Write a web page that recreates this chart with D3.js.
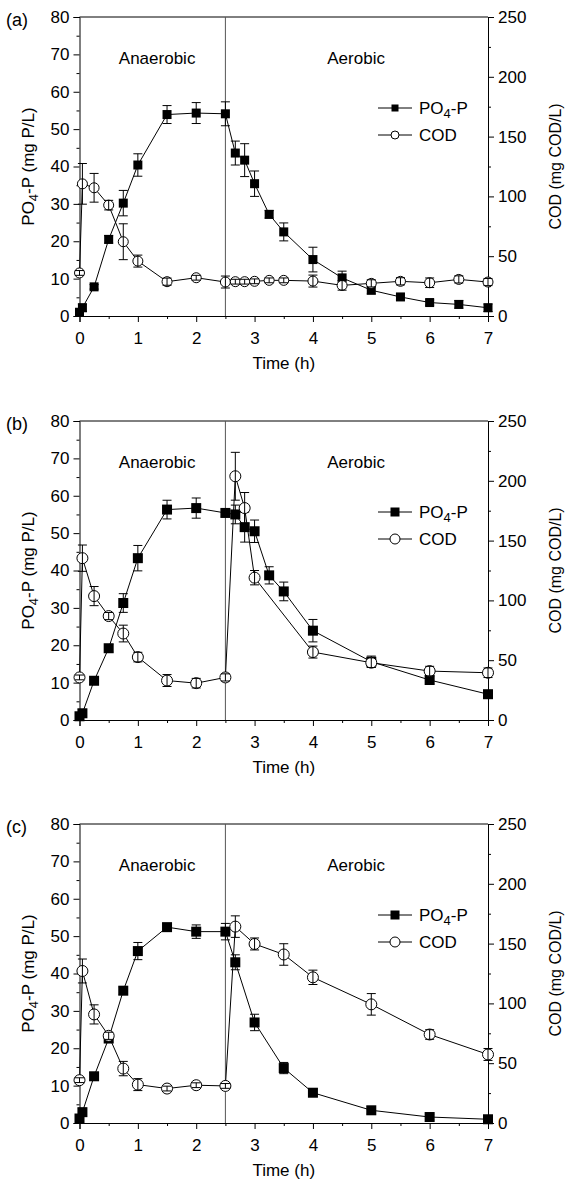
<!DOCTYPE html>
<html>
<head>
<meta charset="utf-8">
<script src="https://cdn.jsdelivr.net/npm/d3@7"></script>
<style>
  body { margin: 0; background: #fff; }
  text { font-family: "Liberation Sans", Arial, sans-serif; fill: #000; }
</style>
</head>
<body>
<svg id="chart" width="566" height="1182"></svg>
<script>
// ---- data ----
// panel (a)
const timeA   = [0, 0.05, 0.25, 0.5, 0.75, 1, 1.5, 2, 2.5, 2.67, 2.83, 3, 3.25, 3.5, 4, 4.5, 5, 5.5, 6, 6.5, 7];
const poA     = [1.0, 2.2, 7.8, 20.5, 30.2, 40.4, 53.9, 54.3, 54.1, 43.6, 41.7, 35.4, 27.2, 22.5, 15.1, 10.2, 6.9, 5.1, 3.6, 3.1, 2.2];
const poErrA  = [0.5, 1.0, 0.6, 1.0, 3.4, 3.0, 2.4, 2.8, 3.2, 3.2, 4.4, 3.4, 1.0, 2.4, 3.3, 1.8, 1.0, 0.8, 0.7, 1.0, 1.0];
const codA    = [36.0, 110.5, 107.2, 92.7, 62.1, 45.9, 28.7, 32.0, 28.4, 28.7, 28.7, 29.0, 29.8, 29.8, 29.2, 25.6, 27.3, 29.0, 27.8, 30.6, 28.4];
const codErrA = [2.0, 17.0, 12.0, 4.0, 15.0, 5.0, 3.0, 2.0, 5.0, 2.0, 2.0, 2.0, 2.0, 2.0, 5.0, 4.0, 3.0, 3.0, 4.0, 3.0, 3.0];

// panel (b)
const timePB  = [0, 0.05, 0.25, 0.5, 0.75, 1, 1.5, 2, 2.5, 2.67, 2.83, 3, 3.25, 3.5, 4, 5, 6, 7];
const poB     = [1.0, 1.8, 10.5, 19.2, 31.3, 43.3, 56.3, 56.7, 55.4, 55.0, 51.6, 50.5, 38.7, 34.4, 23.9, 15.6, 10.7, 6.9];
const poErrB  = [0.5, 1.0, 1.0, 1.0, 2.5, 3.4, 2.5, 2.7, 1.0, 2.5, 4.0, 3.0, 2.3, 2.5, 3.0, 1.5, 1.0, 1.0];
const timeCB  = [0, 0.05, 0.25, 0.5, 0.75, 1, 1.5, 2, 2.5, 2.67, 2.83, 3, 4, 5, 6, 7];
const codB    = [35.6, 135.3, 103.6, 86.9, 72.3, 52.6, 33.0, 30.8, 35.6, 203.8, 177.2, 119.0, 56.8, 47.9, 40.9, 39.5];
const codErrB = [2.0, 11.0, 8.0, 3.0, 7.0, 4.0, 5.0, 4.0, 3.0, 20.0, 13.0, 6.0, 5.0, 4.0, 4.0, 4.0];

// panel (c)
const timeC   = [0, 0.05, 0.25, 0.5, 0.75, 1, 1.5, 2, 2.5, 2.67, 3, 3.5, 4, 5, 6, 7];
const poC     = [1.2, 2.9, 12.5, 22.6, 35.4, 46.0, 52.4, 51.2, 51.2, 43.0, 26.9, 14.7, 8.1, 3.4, 1.6, 1.0];
const poErrC  = [0.5, 1.0, 1.0, 1.0, 1.0, 2.3, 1.0, 1.8, 2.2, 2.0, 2.2, 1.5, 1.0, 1.0, 0.8, 0.5];
const codC    = [35.8, 127.1, 90.8, 72.9, 45.5, 32.1, 28.8, 31.6, 31.0, 164.2, 149.7, 140.9, 121.8, 99.2, 74.0, 57.3];
const codErrC = [2.0, 10.0, 8.0, 3.0, 6.0, 5.0, 2.0, 2.0, 2.0, 9.0, 5.0, 9.0, 6.0, 9.0, 4.0, 5.0];

const panelLabels = ["(a)", "(b)", "(c)"];
const xTicks  = [0, 1, 2, 3, 4, 5, 6, 7];
const yLTicks = [0, 10, 20, 30, 40, 50, 60, 70, 80];
const yRTicks = [0, 50, 100, 150, 200, 250];
const phaseSwitch = 2.5;

// ---- layout ----
const svg = d3.select("#chart");
const left = 79.5, right = 488, plotH = 299;
const tops = [17, 421, 824];
const markerSize = [9, 10, 10];
const fs = 17;

const panels = [
  {pt: timeA,  po: poA, poErr: poErrA, ct: timeA,  cod: codA, codErr: codErrA},
  {pt: timePB, po: poB, poErr: poErrB, ct: timeCB, cod: codB, codErr: codErrB},
  {pt: timeC,  po: poC, poErr: poErrC, ct: timeC,  cod: codC, codErr: codErrC}
];

function drawErr(g, xs, ys, errs, x, y, cap){
  xs.forEach((t, i) => {
    const cx = x(t), y1 = y(ys[i] + errs[i]), y2 = y(Math.max(0, ys[i] - errs[i]));
    g.append("line").attr("x1", cx).attr("x2", cx).attr("y1", y1).attr("y2", y2);
    g.append("line").attr("x1", cx - cap).attr("x2", cx + cap).attr("y1", y1).attr("y2", y1);
    g.append("line").attr("x1", cx - cap).attr("x2", cx + cap).attr("y1", y2).attr("y2", y2);
  });
  g.attr("stroke", "#000").attr("stroke-width", 1);
}

panels.forEach((p, k) => {
  const top = tops[k], bottom = top + plotH;
  const x = d3.scaleLinear().domain([0, 7]).range([left, right]);
  const yL = d3.scaleLinear().domain([0, 80]).range([bottom, top]);
  const yR = d3.scaleLinear().domain([0, 250]).range([bottom, top]);
  const g = svg.append("g");
  const ms = markerSize[k];

  // frame top
  g.append("line").attr("x1", left).attr("x2", right).attr("y1", top).attr("y2", top)
    .attr("stroke", "#000");

  // axes
  const fmt = d3.format("d");
  g.append("g").attr("transform", `translate(0,${bottom})`)
    .call(d3.axisBottom(x).tickValues(xTicks).tickSize(6).tickPadding(10).tickFormat(fmt));
  g.append("g").attr("transform", `translate(0,${bottom})`)
    .call(d3.axisBottom(x).tickValues(d3.range(0.5, 7, 1)).tickSize(3).tickFormat(""))
    .select(".domain").remove();
  g.append("g").attr("transform", `translate(${left},0)`)
    .call(d3.axisLeft(yL).tickValues(yLTicks).tickSize(6).tickPadding(4).tickFormat(fmt));
  g.append("g").attr("transform", `translate(${left},0)`)
    .call(d3.axisLeft(yL).tickValues(d3.range(5, 80, 10)).tickSize(3).tickFormat(""))
    .select(".domain").remove();
  g.append("g").attr("transform", `translate(${right},0)`)
    .call(d3.axisRight(yR).tickValues(yRTicks).tickSize(6).tickPadding(4).tickFormat(fmt));
  g.append("g").attr("transform", `translate(${right},0)`)
    .call(d3.axisRight(yR).tickValues(d3.range(25, 250, 50)).tickSize(3).tickFormat(""))
    .select(".domain").remove();
  g.selectAll(".tick text").attr("font-size", fs)
    .attr("font-family", "Liberation Sans, Arial, sans-serif");
  g.selectAll(".domain").attr("stroke", "#000");

  // phase divider
  g.append("line").attr("x1", x(phaseSwitch)).attr("x2", x(phaseSwitch))
    .attr("y1", top).attr("y2", bottom).attr("stroke", "#555").attr("stroke-width", 1);

  // texts
  g.append("text").attr("x", 6).attr("y", top + 9).attr("font-size", 18).text(panelLabels[k]);
  g.append("text").attr("x", x(1.33)).attr("y", top + 47).attr("text-anchor", "middle")
    .attr("font-size", fs).text("Anaerobic");
  g.append("text").attr("x", x(4.74)).attr("y", top + 47).attr("text-anchor", "middle")
    .attr("font-size", fs).text("Aerobic");
  g.append("text").attr("x", (left + right) / 2).attr("y", bottom + 53)
    .attr("text-anchor", "middle").attr("font-size", fs).text("Time (h)");

  const ylab = g.append("text")
    .attr("transform", `translate(34,${(top + bottom) / 2}) rotate(-90)`)
    .attr("text-anchor", "middle").attr("font-size", fs);
  ylab.append("tspan").text("PO");
  ylab.append("tspan").attr("dy", 4).attr("font-size", 13).text("4");
  ylab.append("tspan").attr("dy", -4).text("-P (mg P/L)");

  g.append("text")
    .attr("transform", `translate(561,${(top + bottom) / 2}) rotate(-90)`)
    .attr("text-anchor", "middle").attr("font-size", 16).text("COD (mg COD/L)");

  // PO4-P series
  const linePo = d3.line().x((d, i) => x(p.pt[i])).y(d => yL(d));
  g.append("path").datum(p.po).attr("d", linePo)
    .attr("fill", "none").attr("stroke", "#000").attr("stroke-width", 1);
  g.append("g").selectAll("rect").data(p.po).join("rect")
    .attr("x", (d, i) => x(p.pt[i]) - ms / 2).attr("y", d => yL(d) - ms / 2)
    .attr("width", ms).attr("height", ms).attr("fill", "#000");
  drawErr(g.append("g"), p.pt, p.po, p.poErr, x, yL, 4.5);

  // COD series
  const lineCod = d3.line().x((d, i) => x(p.ct[i])).y(d => yR(d));
  g.append("path").datum(p.cod).attr("d", lineCod)
    .attr("fill", "none").attr("stroke", "#000").attr("stroke-width", 1);
  g.append("g").selectAll("circle").data(p.cod).join("circle")
    .attr("cx", (d, i) => x(p.ct[i])).attr("cy", d => yR(d))
    .attr("r", ms / 2 + 0.5).attr("fill", "#fff").attr("stroke", "#000").attr("stroke-width", 1);
  drawErr(g.append("g"), p.ct, p.cod, p.codErr, x, yR, 4.5);

  // legend
  const lg = g.append("g");
  const rows = [{y: top + 91, lab: "po"}, {y: top + 118, lab: "cod"}];
  const ls = k === 0 ? 7 : 9;
  rows.forEach(r => {
    lg.append("line").attr("x1", 378).attr("x2", 412).attr("y1", r.y).attr("y2", r.y)
      .attr("stroke", "#000");
    if (r.lab === "po") {
      lg.append("rect").attr("x", 395 - ls / 2).attr("y", r.y - ls / 2)
        .attr("width", ls).attr("height", ls).attr("fill", "#000");
      const t = lg.append("text").attr("x", 419).attr("y", r.y + 6).attr("font-size", fs);
      t.append("tspan").text("PO");
      t.append("tspan").attr("dy", 4).attr("font-size", 13).text("4");
      t.append("tspan").attr("dy", -4).text("-P");
    } else {
      lg.append("circle").attr("cx", 395).attr("cy", r.y).attr("r", ls / 2 + 0.5)
        .attr("fill", "#fff").attr("stroke", "#000");
      lg.append("text").attr("x", 419).attr("y", r.y + 6).attr("font-size", fs).text("COD");
    }
  });
});
</script>
</body>
</html>
